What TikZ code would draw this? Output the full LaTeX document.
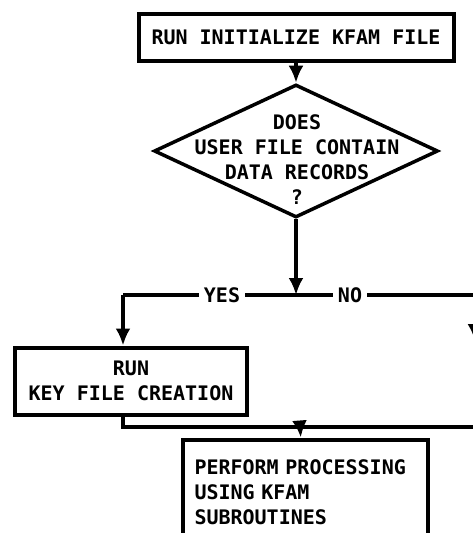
\documentclass[tikz,border=0pt]{standalone}
\usepackage{fontspec}
\setmonofont{DejaVu Sans Mono}
\usetikzlibrary{arrows,arrows.meta,positioning,shapes.geometric,decorations.markings}

\begin{document}
\begin{tikzpicture}[x=1pt,y=-1pt,
  font=\fontsize{20}{25}\selectfont\ttfamily\bfseries,
  box/.style={rectangle,draw=black,line width=4pt,inner sep=0pt},
  decision/.style={diamond,draw=black,line width=3.5pt,inner sep=0pt},
  flow/.style={line width=3.5pt,>={Latex[length=17pt,width=15pt]}},
  tag/.style={fill=white,inner sep=5pt}]
\useasboundingbox (0,0) rectangle (473,533);
\clip (0,0) rectangle (473,533);
% \draw[help lines] (0,0) grid (473,533);
\node (init) [box,minimum width=315,minimum height=47] at (296,37) {RUN INITIALIZE KFAM FILE};
\node (dec) [decision,minimum width=284,minimum height=133] at (296,151) {};
\node (dectext) [align=center] at (297,160) {DOES\\USER FILE CONTAIN\\DATA RECORDS\\?};
\node (keyf) [box,minimum width=232,minimum height=67,align=center] at (131,381) {RUN\\KEY FILE CREATION};
\node (proc) [box,minimum width=245,minimum height=105,text width=221,align=left,inner xsep=12pt] at (305,492) {PERFORM PROCESSING\\USING KFAM\\SUBROUTINES};
%
\coordinate (j1) at (296,295);
\coordinate (yesc) at (123,295);
\coordinate (noc) at (475,295);
\coordinate (j2) at (300,427);
\coordinate (mright) at (475,427);
%
\path[->,flow] (init) edge (dec);
\path[->,flow] (dec) edge (j1);
\draw[flow] (yesc) -- (noc);
\path[->,flow] (yesc) edge (yesc |- keyf.north);
\draw[flow,postaction={decorate},
  decoration={markings,mark=at position 0.35 with {\arrow{>}}}] (noc) -- (mright);
\draw[flow] (keyf.south -| yesc) |- (mright);
\path[->,flow] (j2) edge (proc);
\node (yes) [tag] at (222,295) {YES};
\node (no) [tag] at (350,295) {NO};
\end{tikzpicture}
\end{document}
